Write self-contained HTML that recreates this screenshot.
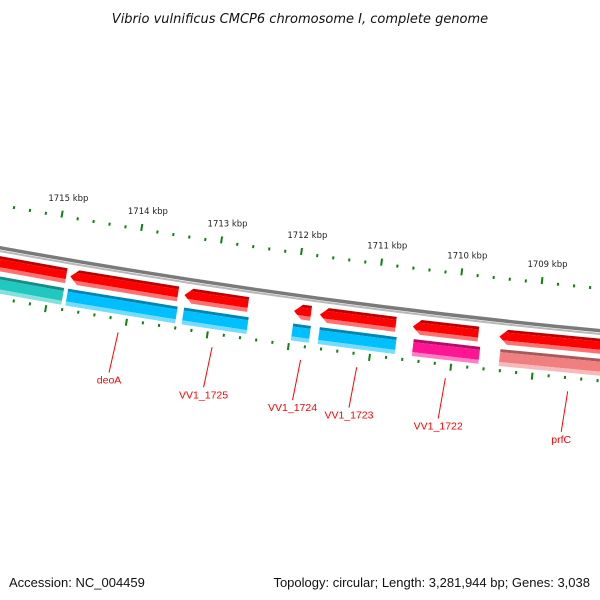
<!DOCTYPE html>
<html><head><meta charset="utf-8"><style>
html,body{margin:0;padding:0;background:#fff}
svg{display:block;font-family:"Liberation Sans","DejaVu Sans",sans-serif}
</style></head><body>
<svg id="map" width="600" height="600" viewBox="0 0 600 600">
<text x="300" y="23" text-anchor="middle" font-size="13" font-style="italic" fill="#111" style="font-family:'DejaVu Sans',sans-serif">Vibrio vulnificus CMCP6 chromosome I, complete genome</text>
<text x="9" y="587" font-size="13" fill="#111">Accession: NC_004459</text>
<text x="590" y="587" text-anchor="end" font-size="13" fill="#111">Topology: circular; Length: 3,281,944 bp; Genes: 3,038</text>
<g id="layer"></g>
</svg>
<script>
// data (kbp)
const tickLabels = [1715, 1714, 1713, 1712, 1711, 1710, 1709];
const fwdStarts = [1716.3, 1713.43, 1712.56, 1711.78, 1710.73, 1709.71, 1707.3];
const fwdEnds   = [1714.82, 1714.77, 1713.35, 1711.99, 1711.67, 1710.52, 1709.45];
const fwdArrow  = [false, true, true, true, true, true, true];
const catStarts = [1716.3, 1713.41, 1712.53, 1711.76, 1710.70, 1709.67, 1707.3];
const catEnds   = [1714.82, 1714.77, 1713.33, 1711.98, 1711.65, 1710.49, 1709.42];
const catColors = ["#20c8c0", "#00bfff", "#00bfff", "#00bfff", "#00bfff", "#ff1493", "#f08080"];
const geneNames = ["deoA", "VV1_1725", "VV1_1724", "VV1_1723", "VV1_1722", "prfC"];
const geneLabelPos = [1714.08, 1712.92, 1711.83, 1711.14, 1710.05, 1708.55];

const NS = "http://www.w3.org/2000/svg";
const layer = document.getElementById("layer");
const CX = 1273, CY = -6756, R = 7120, PXK = 81.3;
let th0 = Math.atan2(260 - CY, 62 - CX);
for (let it = 0; it < 20; it++){
  const x = CX + (R - 45) * Math.cos(th0);
  th0 += (x - 62) / ((R - 45) * Math.sin(th0));
}
function ang(p){ return th0 + (p - 1715) * PXK / R; }
function pt(p, r){ const a = ang(p); return [CX + r*Math.cos(a), CY + r*Math.sin(a)]; }
function mk(tag, attrs){ const e = document.createElementNS(NS, tag); for (const k in attrs) e.setAttribute(k, attrs[k]); layer.appendChild(e); return e; }
function poly(pts, fill){ return mk("polygon", {points: pts.map(q => q[0].toFixed(2)+","+q[1].toFixed(2)).join(" "), fill: fill}); }

let bb = mk("circle", {cx: CX, cy: CY, r: R - 1.5, fill: "none", stroke: "#7a7a7a", "stroke-width": 3.5});


let bb2 = mk("circle", {cx: CX, cy: CY, r: R + 1.8, fill: "none", stroke: "#b8b8b8", "stroke-width": 2});



function tickRing(rBase, dir, namePrefix){
  for (let i = 0; i <= 60; i++){
    const p = 1716.2 - i * 0.2;
    const major = Math.abs(p - Math.round(p)) < 0.01;
    const len = major ? 7 : 3;
    const a = pt(p, rBase), b = pt(p, rBase + dir*len);
    const l = mk("line", {x1: a[0], y1: a[1], x2: b[0], y2: b[1], stroke: "#108010", "stroke-width": 2});
    
    
  }
}
tickRing(R - 42, -1, 'inner');
tickRing(R + 47, 1, 'outer');
tickLabels.forEach(k => {
  const q = pt(k, R - 59);
  const t = mk("text", {x: q[0] + 4, y: q[1], "text-anchor": "middle", "font-size": 8.5, fill: "#222", style: "font-family:'DejaVu Sans',sans-serif"});
  t.textContent = k + " kbp";
  
  
});

function gene(s, e, arrow, r1, r2, colors, name){
  const g = document.createElementNS(NS, "g");
  
  
  layer.appendChild(g);
  const rm = (r1 + r2) / 2, hw = (r2 - r1) / 2;
  const head = arrow ? e - 8 / PXK : e;
  const bnd = r => arrow ? head + (e - head) * (1 - Math.abs(r - rm) / hw) : e;
  const bands = [[r1, r1 + 3, colors[0]], [r1 + 3, r2 - 4, colors[1]], [r2 - 4, r2, colors[2]]];
  bands.forEach(b => {
    const [ra, rb, c] = b;
    const pts = [pt(s, ra), pt(bnd(ra), ra)];
    if (arrow && ra < rm && rb > rm) pts.push(pt(e, rm));
    pts.push(pt(bnd(rb), rb), pt(s, rb));
    g.appendChild(poly(pts, c));
  });
}
function shade(c){
  const n = parseInt(c.slice(1), 16), r = n >> 16, g = (n >> 8) & 255, b = n & 255;
  const d = x => Math.round(x * 0.7), l = x => Math.round(x + (255 - x) * 0.45);
  return ["rgb("+d(r)+","+d(g)+","+d(b)+")", c, "rgb("+l(r)+","+l(g)+","+l(b)+")"];
}
for (let i = 0; i < fwdStarts.length; i++)
  gene(fwdStarts[i], fwdEnds[i], fwdArrow[i], R + 7, R + 22, ["#c00000", "#ff0000", "#ff7070"], 'gene-feature');
for (let i = 0; i < catStarts.length; i++)
  gene(catStarts[i], catEnds[i], false, R + 27, R + 44, shade(catColors[i]), 'cog-feature');

geneNames.forEach((n, i) => {
  const p = geneLabelPos[i];
  const a = pt(p, R + 62), b = pt(p + 0.03, R + 103);
  const l = mk("line", {x1: a[0], y1: a[1], x2: b[0], y2: b[1], stroke: "#ff0000", "stroke-width": 1});
  
  
  const t = mk("text", {x: b[0], y: b[1] + 11, "text-anchor": "middle", "font-size": 10.5, fill: "#ff0000"});
  t.textContent = n;
  
  
});
</script>
</body></html>
